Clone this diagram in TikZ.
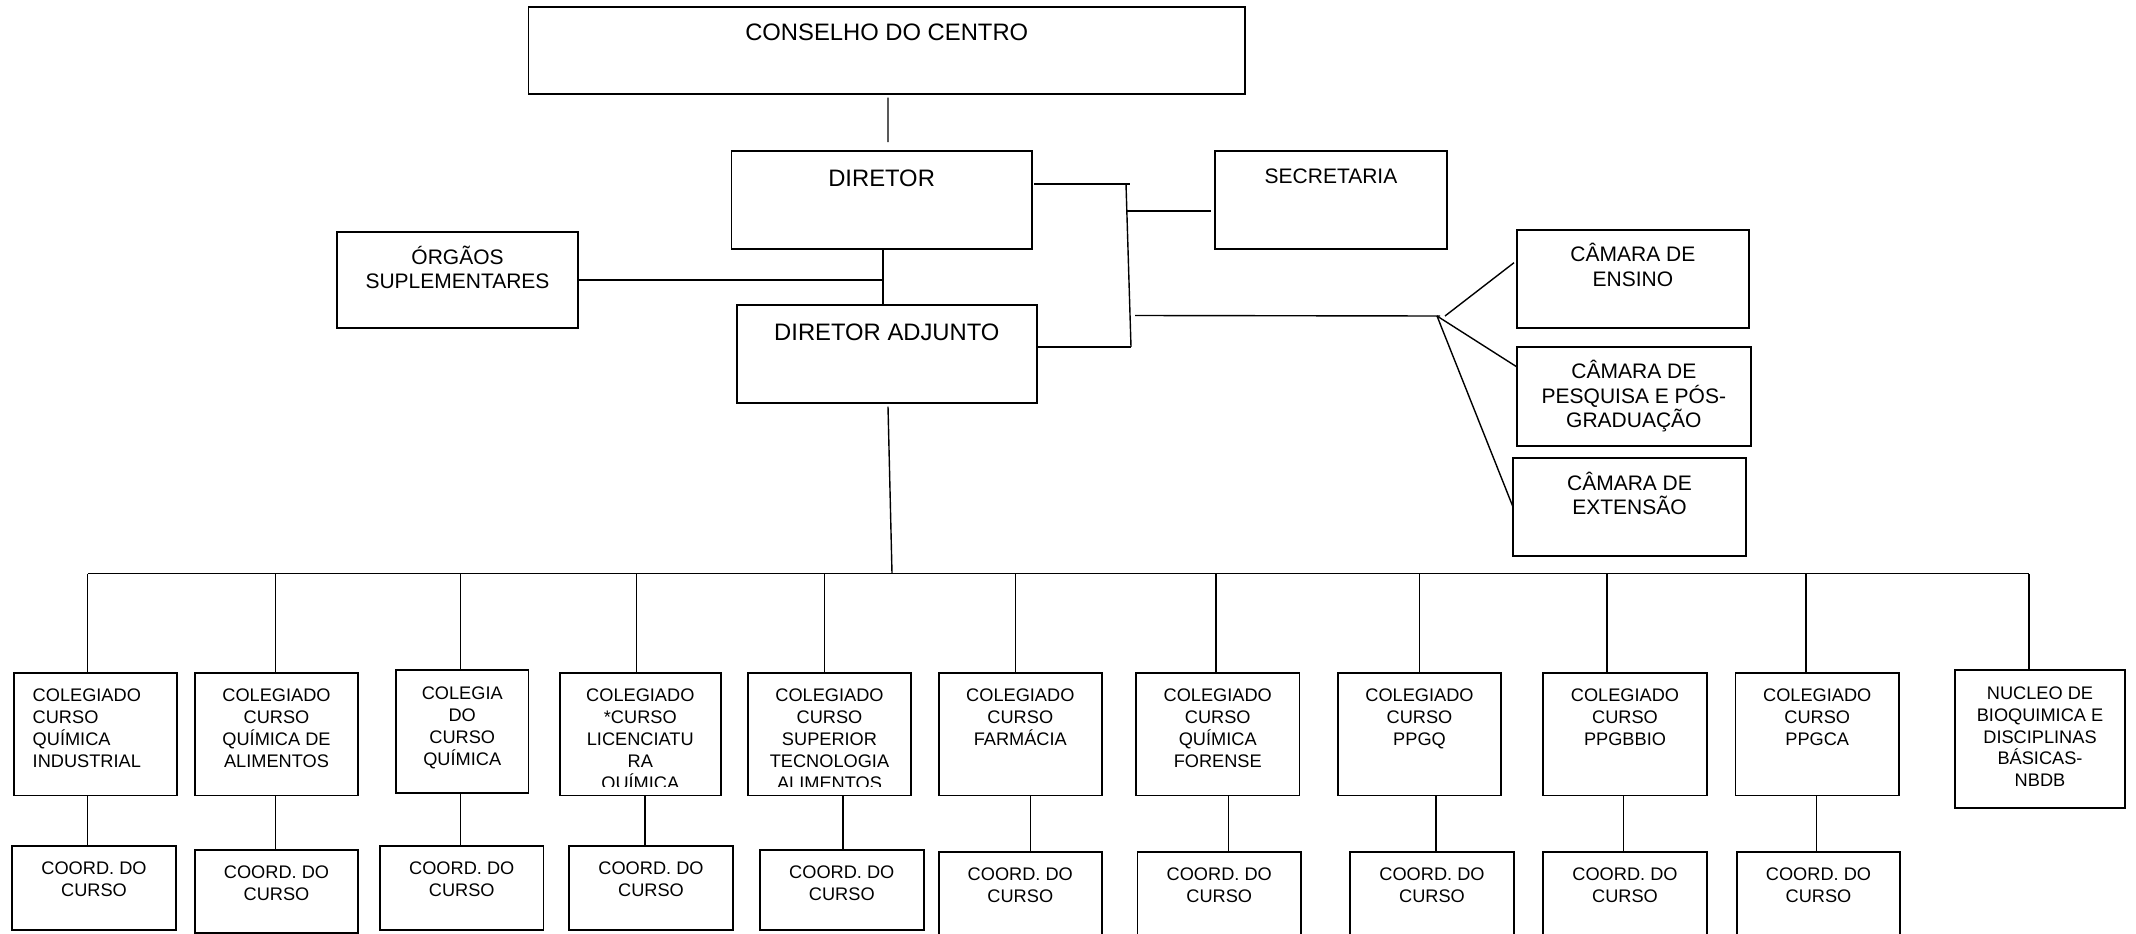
\documentclass[tikz,border=0pt]{standalone}
\usepackage{fontspec}
\setmainfont{Liberation Sans}
\newcommand\tstr{\rule{0pt}{1.05em}}
\newcommand\bx[5]{\node[box, minimum width={(#4)-(#2)}, minimum height={(#5)-(#3)}] (#1) at ({((#2)+(#4))/2},{((#3)+(#5))/2}) {};}
\newcommand\lb[4]{\node[#1] (#2l) at ([yshift=-#3pt]#2.north) {#4};}
\tikzset{
  box/.style={draw, rectangle, line width=1.8pt, inner sep=0pt, outer sep=0pt},
  conn/.style={line width=1.4pt},
  txtbase/.style={inner sep=0pt, outer sep=0pt, anchor=north, align=center, execute at begin node=\tstr},
  big/.style={txtbase, font=\fontsize{23.8}{27.4}\selectfont},
  mid/.style={txtbase, font=\fontsize{21}{24.5}\selectfont},
  small/.style={txtbase, font=\fontsize{18.2}{21.9}\selectfont},
}
\begin{document}
\begin{tikzpicture}[x=1pt,y=-1pt]
\useasboundingbox (0,0) rectangle (2136,934);
\fill[white] (0,0) rectangle (2136,934);
\clip (0,0) rectangle (2136,934);

% upper boxes
\bx{cons}{528.5}{6.8}{1245}{94}
\bx{dir}{731.5}{151}{1031.7}{249}
\bx{sec}{1215}{151}{1447}{249}
\bx{org}{337}{232}{578}{328}
\bx{adj}{737}{305}{1036.7}{403}
\bx{ens}{1516.7}{230}{1749}{328}
\bx{pes}{1517}{347}{1750.7}{446}
\bx{ext}{1513}{458}{1746}{556}

\lb{big}{cons}{8.4}{CONSELHO DO CENTRO}
\lb{big}{dir}{10.4}{DIRETOR}
\lb{big}{adj}{10.4}{DIRETOR ADJUNTO}
\lb{mid}{sec}{10}{SECRETARIA}
\lb{mid}{org}{14}{ÓRGÃOS\\SUPLEMENTARES}
\lb{mid}{ens}{13.5}{CÂMARA DE\\ENSINO}
\lb{mid}{pes}{13.5}{CÂMARA DE\\PESQUISA E PÓS-\\GRADUAÇÃO}
\lb{mid}{ext}{14}{CÂMARA DE\\EXTENSÃO}

% colegiado boxes
\bx{c1}{14}{673}{177}{795.5}
\bx{c2}{195}{673}{358}{795.5}
\bx{c3}{396}{670}{528.5}{793}
\bx{c4}{560}{673}{720.6}{795.5}
\bx{c5}{748}{673}{911}{795.5}
\bx{c6}{938.6}{673}{1102}{795.5}
\bx{c7}{1136}{673}{1299.5}{795.5}
\bx{c8}{1338}{673}{1501}{795.5}
\bx{c9}{1543}{673}{1707}{795.5}
\bx{c10}{1735.5}{673}{1899}{795.5}
\bx{nb}{1955}{670}{2125}{808}

\node[small, anchor=north west, align=left] (c1l) at ([xshift=18.7pt,yshift=-15.8pt]c1.north west) {COLEGIADO\\CURSO\\QUÍMICA\\INDUSTRIAL};
\lb{small}{c2}{15.8}{COLEGIADO\\CURSO\\QUÍMICA DE\\ALIMENTOS}
\lb{small}{c3}{17.2}{COLEGIA\\DO\\CURSO\\QUÍMICA}
\begin{scope}
\clip (c4.north west) rectangle ([yshift=9.5pt]c4.south east);
\lb{small}{c4}{15.8}{COLEGIADO\\*CURSO\\LICENCIATU\\RA\\QUÍMICA}
\end{scope}
\begin{scope}
\clip (c5.north west) rectangle ([yshift=9.5pt]c5.south east);
\lb{small}{c5}{15.8}{COLEGIADO\\CURSO\\SUPERIOR\\TECNOLOGIA\\ALIMENTOS}
\end{scope}
\lb{small}{c6}{15.8}{COLEGIADO\\CURSO\\FARMÁCIA}
\lb{small}{c7}{15.8}{COLEGIADO\\CURSO\\QUÍMICA\\FORENSE}
\lb{small}{c8}{15.8}{COLEGIADO\\CURSO\\PPGQ}
\lb{small}{c9}{15.8}{COLEGIADO\\CURSO\\PPGBBIO}
\lb{small}{c10}{15.8}{COLEGIADO\\CURSO\\PPGCA}
\lb{small}{nb}{16.5}{NUCLEO DE\\BIOQUIMICA E\\DISCIPLINAS\\BÁSICAS-\\NBDB}

% coord boxes
\bx{k1}{12}{846}{176}{930}
\bx{k2}{195}{850}{358}{933}
\bx{k3}{380}{846}{543.5}{930}
\bx{k4}{569}{846}{733}{930}
\bx{k5}{760}{850}{923.6}{930}
\bx{k6}{938.6}{852}{1102}{960}
\bx{k7}{1137.5}{852}{1301}{960}
\bx{k8}{1350}{852}{1514}{960}
\bx{k9}{1543}{852}{1707}{960}
\bx{k10}{1737}{852}{1900}{960}
\foreach \k in {k1,k2,k3,k4,k5,k6,k7,k8,k9,k10}{
  \lb{small}{\k}{16}{COORD. DO\\CURSO}
}

% upper connectors
\draw[conn] ([xshift=1.2pt,yshift=-3.7pt]cons.south) -- ([xshift=6.4pt,yshift=9pt]dir.north);
\coordinate (j1) at ([xshift=1.4pt]dir.south);
\draw[conn] (j1) -- ([xshift=-3.85pt]adj.north);
\draw[conn] (org.east) -- (org.east -| j1);
\coordinate (bt) at (1126,184);
\coordinate (bb) at (1131,347);
\coordinate (bs) at (1126.8,211);
\draw[conn] ([xshift=2.3pt,yshift=16pt]dir.east) -- ([xshift=4pt]bt);
\draw[conn] (bt) -- (bb);
\draw[conn] ([yshift=7pt]adj.east) -- (bb);
\draw[conn] (bs) -- ([xshift=-4pt,yshift=-11pt]sec.west);
\coordinate (hs) at (1135,315.5);
\coordinate (fan) at (1437,316);
\draw[conn] (hs) -- ([xshift=3pt]fan);
\draw[conn] ([xshift=8pt]fan) -- ([xshift=-2.7pt,yshift=16.3pt]ens.west);
\draw[conn] (fan) -- ([yshift=29.5pt]pes.west);
\draw[conn] (fan) -- (ext.west);

% bus
\coordinate (busL) at (87.5,573.5);
\coordinate (busR) at (2029,573.5);
\coordinate (am) at (892,573.5);
\draw[conn] (busL) -- (busR);
\draw[conn] ([xshift=1.15pt,yshift=-3.7pt]adj.south) -- (am);
\foreach \c/\x in {c1/87.5,c2/275.7,c3/460.6,c4/636.7,c5/824.3,c6/1015.4,c7/1216,c8/1419.5,c9/1607,c10/1806,nb/2029}{
  \coordinate (d\c) at (\x,0);
  \draw[conn] (\c.north -| d\c) -- (busL -| d\c);
}
\foreach \c/\k/\x in {c1/k1/87.5,c2/k2/275.7,c3/k3/460.6,c4/k4/644.9,c5/k5/842.8,c6/k6/1030.4,c7/k7/1228.4,c8/k8/1435.9,c9/k9/1623.5,c10/k10/1816.6}{
  \coordinate (v\c) at (\x,0);
  \draw[conn] (\c.south -| v\c) -- (\k.north -| v\c);
}
\end{tikzpicture}
\end{document}
